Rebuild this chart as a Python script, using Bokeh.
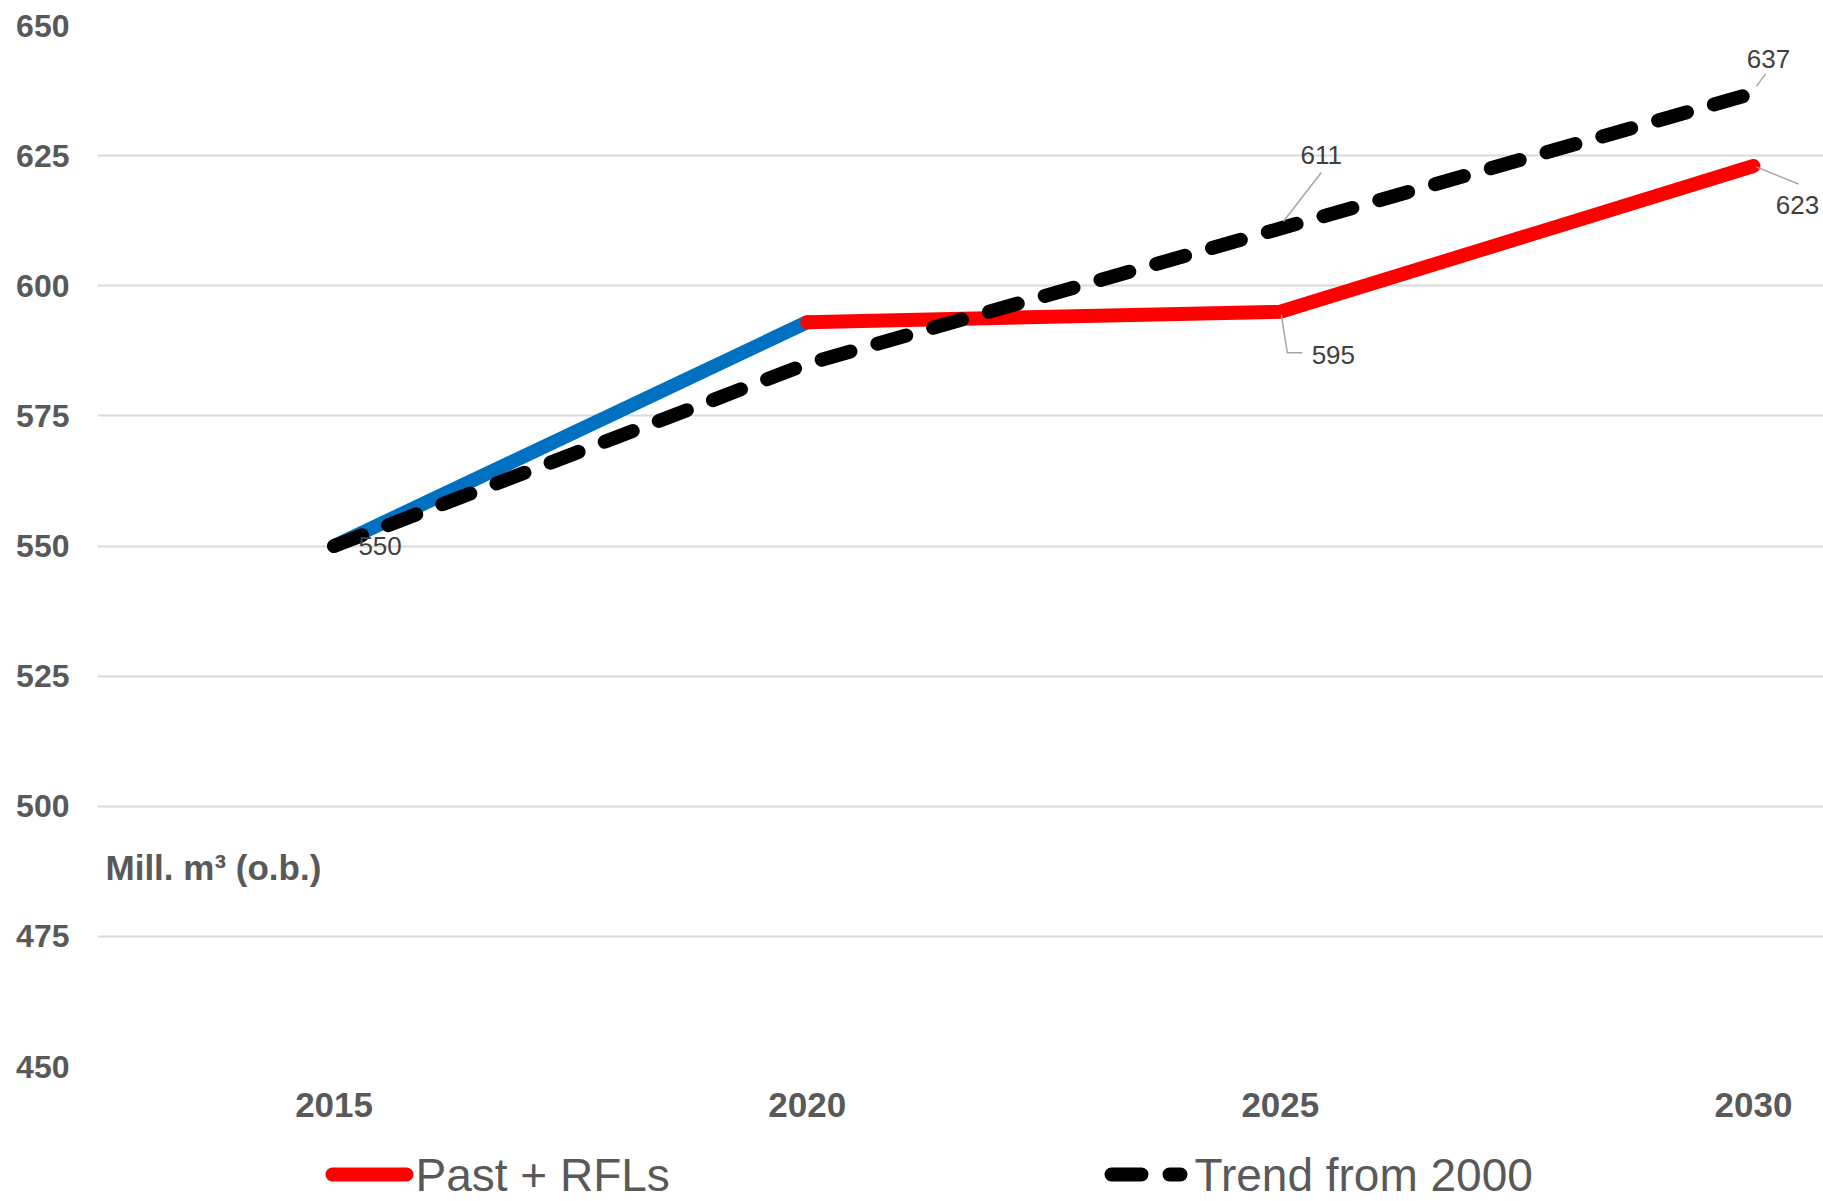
from bokeh.plotting import figure
from bokeh.layouts import column
from bokeh.models import Range1d, FixedTicker, Label
from bokeh.embed import file_html
from bokeh.resources import INLINE
from bokeh.core.properties import value

# ---- data ----
years = [2015, 2020, 2025, 2030]
year_labels = ["2015", "2020", "2025", "2030"]
past_rfl_values = [550, 593, 595, 623]      # first segment (history) drawn blue, projection red
trend_values = [550, 585, 611, 637]
y_ticks = [450, 475, 500, 525, 550, 575, 600, 625, 650]
series_names = ["Past + RFLs", "Trend from 2000"]
unit_label = "Mill. m³ (o.b.)"

# ---- layout constants ----
W, H = 1823, 1201
LEG_H = 69
H1 = H - LEG_H
B_LEFT, B_TOP, B_BOTTOM = 97, 25, 66
X0, X1 = 2012.5, 2030.74
Y0, Y1 = 450, 650
FW, FH = W - B_LEFT, H1 - B_TOP - B_BOTTOM
PX_X = FW / (X1 - X0)
PX_Y = FH / (Y1 - Y0)

GRAY = "#595959"
FONT = "Liberation Sans"
LINE_W = 14
DASH = "30 28"
COL_BLUE, COL_RED, COL_BLACK = "#0070C0", "#FF0000", "#000000"

p = figure(width=W, height=H1, x_range=Range1d(X0, X1), y_range=Range1d(Y0, Y1),
           output_backend="svg", toolbar_location=None,
           min_border_left=B_LEFT, min_border_right=0, min_border_top=B_TOP,
           min_border_bottom=B_BOTTOM)
p.outline_line_color = None
p.background_fill_color = "white"
p.border_fill_color = "white"

# grid
p.xgrid.visible = False
p.ygrid.grid_line_color = "#D9D9D9"
p.ygrid.grid_line_width = 2
p.ygrid.ticker = FixedTicker(ticks=y_ticks)

# axes
p.yaxis.ticker = FixedTicker(ticks=y_ticks)
p.xaxis.ticker = FixedTicker(ticks=years)
p.xaxis.major_label_overrides = {y: l for y, l in zip(years, year_labels)}
for ax, size, standoff in ((p.yaxis[0], "32px", 28), (p.xaxis[0], "35px", 26)):
    ax.axis_line_color = None
    ax.major_tick_line_color = None
    ax.minor_tick_line_color = None
    ax.major_tick_out = 0
    ax.major_label_text_font = FONT
    ax.major_label_text_font_style = "bold"
    ax.major_label_text_font_size = size
    ax.major_label_text_color = GRAY
    ax.major_label_standoff = standoff

# lines
p.line(years[:2], past_rfl_values[:2], line_color=COL_BLUE, line_width=LINE_W,
       line_cap="round", line_join="round")
p.line(years[1:], past_rfl_values[1:], line_color=COL_RED, line_width=LINE_W,
       line_cap="round", line_join="round")
p.line(years, trend_values, line_color=COL_BLACK, line_width=LINE_W,
       line_dash=DASH, line_cap="round", line_join="round")

# data labels (series, point index, screen offset of label centre)
def pt(series, i):
    return years[i], series[i]

label_specs = [
    (past_rfl_values, 0, (46, 0)),
    (trend_values, 2, (41, -73)),
    (trend_values, 3, (15, -34)),
    (past_rfl_values, 2, (53, 43)),
    (past_rfl_values, 3, (44, 39)),
]
lx, ly, lt = [], [], []
for s, i, (dx, dy) in label_specs:
    x, y = pt(s, i)
    lx.append(x + dx / PX_X)
    ly.append(y - dy / PX_Y)
    lt.append(str(s[i]))
p.text(x=lx, y=ly, text=lt, text_font=value(FONT), text_font_size="26px",
       text_color="#404040", text_align="center", text_baseline="middle")

# leader lines (screen offsets from the point)
leader_specs = [
    (trend_values, 2, [(3, -7), (41, -56)]),
    (trend_values, 3, [(3, -7), (12, -19)]),
    (past_rfl_values, 3, [(3, 1), (45, 18)]),
    (past_rfl_values, 2, [(1, 3), (7, 41), (22, 41)]),
]
xs, ys = [], []
for s, i, offs in leader_specs:
    x, y = pt(s, i)
    xs.append([x + dx / PX_X for dx, dy in offs])
    ys.append([y - dy / PX_Y for dx, dy in offs])
p.multi_line(xs=xs, ys=ys, line_color="#A6A6A6", line_width=1.5)

# unit label
p.add_layout(Label(x=X0, y=488.2, x_offset=8, text=unit_label, text_font=FONT,
                   text_font_size="35px", text_font_style="bold", text_color=GRAY,
                   text_baseline="middle"))

# ---- legend strip (separate figure, x in window pixels) ----
leg = figure(width=W, height=LEG_H, x_range=Range1d(B_LEFT, W), y_range=Range1d(LEG_H, 0),
             output_backend="svg", toolbar_location=None, min_border=0,
             min_border_left=B_LEFT, min_border_right=0)
leg.axis.visible = False
leg.grid.visible = False
leg.outline_line_color = None
leg.background_fill_color = "white"
leg.border_fill_color = "white"

LEG_Y = 42
leg_items = [
    (series_names[0], COL_RED, None, 332, 406, 415),
    (series_names[1], COL_BLACK, DASH, 1111, 1180, 1194),
]
for name, col, dash, gx0, gx1, tx in leg_items:
    kw = dict(line_dash=dash) if dash else {}
    leg.line([gx0, gx1], [LEG_Y, LEG_Y], line_color=col, line_width=LINE_W,
             line_cap="round", **kw)
    leg.text(x=[tx], y=[LEG_Y], text=[name], text_font=value(FONT),
             text_font_size="46px", text_color=GRAY, text_baseline="middle",
             text_align="left")

layout = column(p, leg, spacing=0)
open("out.html", "w").write(file_html(layout, INLINE))
